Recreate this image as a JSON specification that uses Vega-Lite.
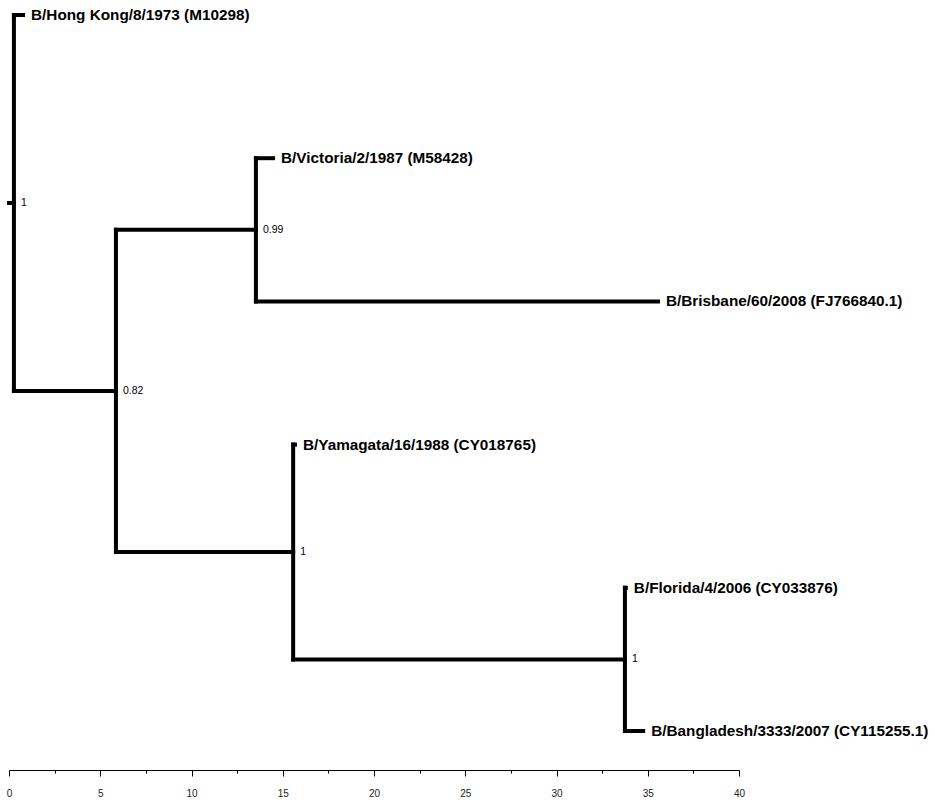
{
  "$schema": "https://vega.github.io/schema/vega-lite/v6.json",
  "width": 730,
  "height": 770,
  "autosize": {"type": "none"},
  "padding": {"left": 9, "top": 0, "right": 196, "bottom": 30},
  "background": "white",
  "config": {"view": {"stroke": null}},
  "datasets": {
    "branches": [
      {"x": 0, "x2": 0.27, "y": 1.3125, "y2": 1.3125},
      {"x": 0.27, "x2": 0.27, "y": 0, "y2": 2.625},
      {"x": 0.27, "x2": 0.77, "y": 0, "y2": 0},
      {"x": 0.27, "x2": 5.86, "y": 2.625, "y2": 2.625},
      {"x": 5.86, "x2": 5.86, "y": 1.5, "y2": 3.75},
      {"x": 5.86, "x2": 13.53, "y": 1.5, "y2": 1.5},
      {"x": 13.53, "x2": 13.53, "y": 1, "y2": 2},
      {"x": 13.53, "x2": 14.47, "y": 1, "y2": 1},
      {"x": 13.53, "x2": 35.56, "y": 2, "y2": 2},
      {"x": 5.86, "x2": 15.57, "y": 3.75, "y2": 3.75},
      {"x": 15.57, "x2": 15.57, "y": 3, "y2": 4.5},
      {"x": 15.57, "x2": 15.67, "y": 3, "y2": 3},
      {"x": 15.57, "x2": 33.75, "y": 4.5, "y2": 4.5},
      {"x": 33.75, "x2": 33.75, "y": 4, "y2": 5},
      {"x": 33.75, "x2": 33.8, "y": 4, "y2": 4},
      {"x": 33.75, "x2": 34.75, "y": 5, "y2": 5}
    ],
    "tips": [
      {"x": 0.77, "y": 0, "name": "B/Hong Kong/8/1973 (M10298)"},
      {"x": 14.47, "y": 1, "name": "B/Victoria/2/1987 (M58428)"},
      {"x": 35.56, "y": 2, "name": "B/Brisbane/60/2008 (FJ766840.1)"},
      {"x": 15.67, "y": 3, "name": "B/Yamagata/16/1988 (CY018765)"},
      {"x": 33.8, "y": 4, "name": "B/Florida/4/2006 (CY033876)"},
      {"x": 34.75, "y": 5, "name": "B/Bangladesh/3333/2007 (CY115255.1)"}
    ],
    "nodes": [
      {"x": 0.27, "y": 1.3125, "support": "1"},
      {"x": 5.86, "y": 2.625, "support": "0.82"},
      {"x": 13.53, "y": 1.5, "support": "0.99"},
      {"x": 15.57, "y": 3.75, "support": "1"},
      {"x": 33.75, "y": 4.5, "support": "1"}
    ]
  },
  "layer": [
    {
      "data": {"name": "branches"},
      "mark": {"type": "rule", "strokeWidth": 4, "color": "black", "strokeCap": "square"},
      "encoding": {
        "x": {
          "field": "x", "type": "quantitative",
          "scale": {"domain": [0, 40], "nice": false, "zero": false},
          "axis": {
            "orient": "bottom",
            "title": null,
            "grid": false,
            "values": [0, 2.5, 5, 7.5, 10, 12.5, 15, 17.5, 20, 22.5, 25, 27.5, 30, 32.5, 35, 37.5, 40],
            "labelExpr": "datum.value % 5 === 0 ? format(datum.value, 'd') : ''",
            "tickSize": {"condition": {"test": "datum.value % 5 === 0", "value": 6}, "value": 3},
            "tickColor": "black",
            "tickWidth": 1,
            "domainColor": "black",
            "domainWidth": 1,
            "labelColor": "#222",
            "labelFont": "Liberation Sans Narrow, Liberation Sans, sans-serif",
            "labelFontSize": 10,
            "labelPadding": 12,
            "labelFlush": false
          }
        },
        "x2": {"field": "x2"},
        "y": {
          "field": "y", "type": "quantitative",
          "scale": {"domain": [-0.1047, 5.2723], "reverse": true, "nice": false, "zero": false},
          "axis": null
        },
        "y2": {"field": "y2"}
      }
    },
    {
      "data": {"name": "tips"},
      "mark": {"type": "text", "align": "left", "baseline": "middle", "dx": 8, "font": "Liberation Sans, Arial, sans-serif", "fontSize": 15.3, "fontWeight": "bold", "color": "black"},
      "encoding": {
        "x": {"field": "x", "type": "quantitative"},
        "y": {"field": "y", "type": "quantitative"},
        "text": {"field": "name"}
      }
    },
    {
      "data": {"name": "nodes"},
      "mark": {"type": "text", "align": "left", "baseline": "middle", "dx": 7, "font": "Liberation Sans, Arial, sans-serif", "fontSize": 10.5, "color": "black"},
      "encoding": {
        "x": {"field": "x", "type": "quantitative"},
        "y": {"field": "y", "type": "quantitative"},
        "text": {"field": "support"}
      }
    }
  ]
}
